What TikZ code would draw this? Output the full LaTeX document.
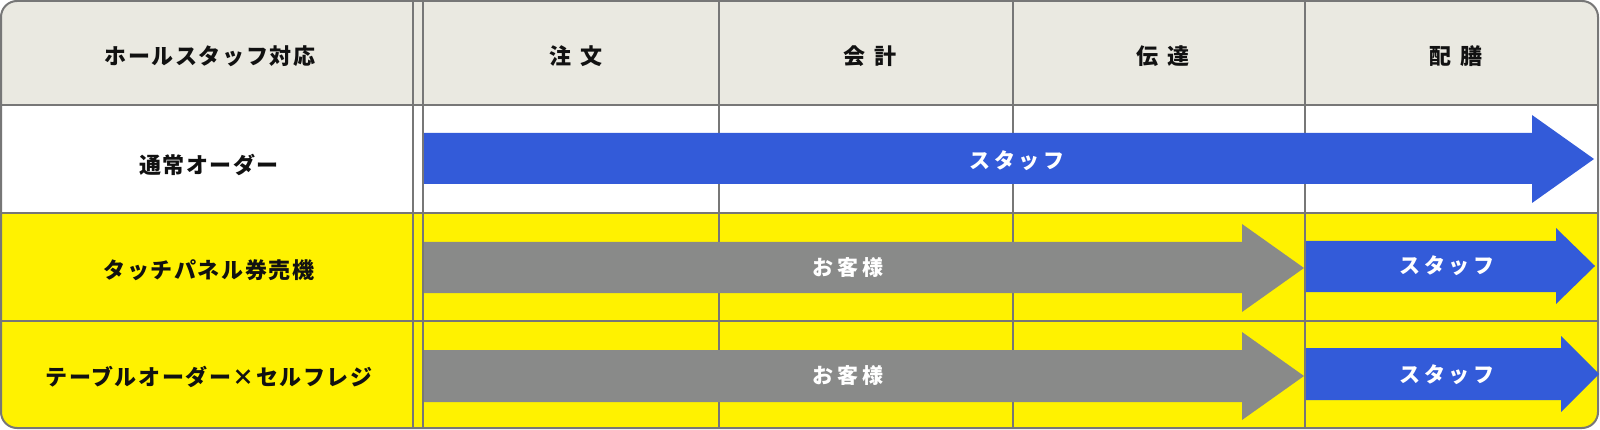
\documentclass[tikz,border=0pt]{standalone}
\usepackage{fontspec}
\setmainfont{Noto Sans CJK JP}
\newfontfamily\hdfont{Noto Sans CJK JP}[LetterSpace=40]
\newfontfamily\lbfont{Noto Sans CJK JP}[LetterSpace=7]
\newfontfamily\arfont{Noto Sans CJK JP}[LetterSpace=17]
\definecolor{gridc}{HTML}{777777}
\definecolor{headc}{HTML}{EAE9E1}
\definecolor{yelc}{HTML}{FFF200}
\definecolor{bluec}{HTML}{335BD9}
\definecolor{grayc}{HTML}{898A89}
\definecolor{txtc}{HTML}{111111}
\tikzset{
  gridline/.style={draw=gridc, line width=2pt},
  headtxt/.style={font=\hdfont\bfseries\fontsize{22}{26}\selectfont, text=txtc, inner sep=0pt, anchor=center},
  labtxt/.style={font=\lbfont\bfseries\fontsize{22}{26}\selectfont, text=txtc, inner sep=0pt, anchor=center},
  arrtxt/.style={font=\arfont\bfseries\fontsize{21}{25}\selectfont, text=white, inner sep=0pt, anchor=center},
  bluearrow/.style={fill=bluec},
  grayarrow/.style={fill=grayc},
}
\begin{document}
\begin{tikzpicture}[x=1pt,y=-1pt]
\useasboundingbox (0,0) rectangle (1600,430);
% backgrounds
\begin{scope}
  \clip[rounded corners=16pt] (1,1) rectangle (1598,428);
  \fill[headc] (1,1) rectangle (1598,105);
  \fill[white] (1,105) rectangle (1598,213);
  \fill[yelc] (1,213) rectangle (1598,428);
\end{scope}
% grid
\draw[gridline] (1,105) -- (1598,105);
\draw[gridline] (1,213) -- (1598,213);
\draw[gridline] (1,321) -- (1598,321);
\foreach \x in {413,423,719,1013,1305}
  \draw[gridline] (\x,1) -- (\x,428);
\draw[gridline, rounded corners=16pt] (1,1) rectangle (1598,428);
% header texts
\node[labtxt] (h0) at (210,56) {ホールスタッフ対応};
\node[headtxt] (h1) at (576,56) {注文};
\node[headtxt] (h2) at (870,56) {会計};
\node[headtxt] (h3) at (1163,56) {伝達};
\node[headtxt] (h4) at (1456,56) {配膳};
% row labels
\node[labtxt] (r1) at (209,165) {通常オーダー};
\node[labtxt] (r2) at (209,270) {タッチパネル券売機};
\node[labtxt] (r3) at (209,377) {テーブルオーダー×セルフレジ};
% arrows
\fill[bluearrow] (424,133) -- (1532,133) -- (1532,115) -- (1594,159) -- (1532,203) -- (1532,184) -- (424,184) -- cycle;
\fill[grayarrow] (424,242) -- (1242,242) -- (1242,224) -- (1304,268) -- (1242,312) -- (1242,293) -- (424,293) -- cycle;
\fill[bluearrow] (1306,241) -- (1556,241) -- (1556,228) -- (1595,266) -- (1556,304) -- (1556,292) -- (1306,292) -- cycle;
\fill[grayarrow] (424,350) -- (1242,350) -- (1242,332) -- (1304,376) -- (1242,420) -- (1242,402) -- (424,402) -- cycle;
\fill[bluearrow] (1306,348) -- (1561,348) -- (1561,336) -- (1599,374) -- (1561,412) -- (1561,400) -- (1306,400) -- cycle;
% arrow texts
\node[arrtxt] (a1) at (1017,161) {スタッフ};
\node[arrtxt] (a2) at (848,268) {お客様};
\node[arrtxt] (a3) at (1447,266) {スタッフ};
\node[arrtxt] (a4) at (848,376) {お客様};
\node[arrtxt] (a5) at (1447,375) {スタッフ};
\end{tikzpicture}
\end{document}
